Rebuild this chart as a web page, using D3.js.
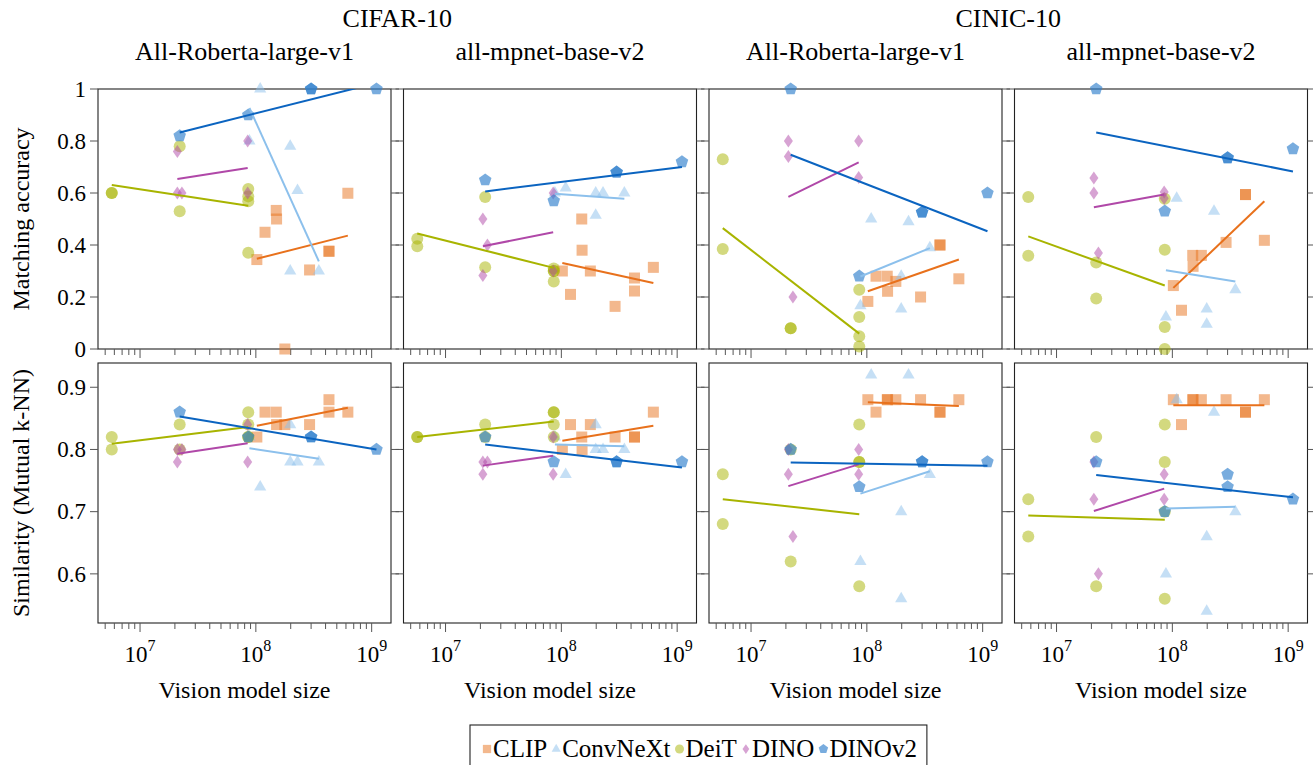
<!DOCTYPE html>
<html>
<head>
<meta charset="utf-8">
<script src="https://cdn.jsdelivr.net/npm/d3@7"></script>
<style>
body { margin: 0; background: #fff; }
text { font-family: "Liberation Serif", "Times New Roman", serif; fill: #000; }
</style>
</head>
<body>
<script>
// model sizes (vision encoder parameters)
var clipSize     = [102e6, 120e6, 150e6, 151e6, 178e6, 291e6, 428e6, 428e6, 623e6];
var convnextSize = [88e6, 109e6, 198e6, 198e6, 229e6, 350e6];
var deitSize     = [5.7e6, 5.7e6, 22e6, 22e6, 86e6, 86e6, 86e6, 86e6];
var dinoSize     = [21e6, 21e6, 23e6, 85e6, 85e6];
var dinov2Size   = [22e6, 86e6, 300e6, 300e6, 1.1e9];

// panel titles
var datasets = ["CIFAR-10", "CINIC-10"];
var textModels = ["All-Roberta-large-v1", "all-mpnet-base-v2", "All-Roberta-large-v1", "all-mpnet-base-v2"];

// matching accuracy, one row per panel
var clipAcc = [
  [0.344, 0.449, 0.533, 0.50, 0.0, 0.304, 0.376, 0.376, 0.599],
  [0.30, 0.21, 0.50, 0.38, 0.30, 0.164, 0.273, 0.223, 0.314],
  [0.183, 0.28, 0.28, 0.222, 0.26, 0.20, 0.40, 0.40, 0.27],
  [0.244, 0.149, 0.36, 0.318, 0.36, 0.41, 0.594, 0.594, 0.418]
];
var convnextAcc = [
  [0.80, 1.0, 0.78, 0.30, 0.61, 0.30],
  [0.60, 0.62, 0.60, 0.515, 0.60, 0.60],
  [0.167, 0.50, 0.28, 0.154, 0.49, 0.39],
  [0.123, 0.58, 0.154, 0.096, 0.53, 0.228]
];
var deitAcc = [
  [0.60, 0.60, 0.78, 0.53, 0.615, 0.587, 0.568, 0.37],
  [0.424, 0.395, 0.585, 0.314, 0.31, 0.30, 0.26, 0.30],
  [0.73, 0.385, 0.08, 0.08, 0.228, 0.123, 0.049, 0.01],
  [0.585, 0.359, 0.333, 0.194, 0.578, 0.382, 0.085, 0.0]
];
var dinoAcc = [
  [0.60, 0.76, 0.60, 0.80, 0.60],
  [0.50, 0.283, 0.40, 0.60, 0.30],
  [0.80, 0.74, 0.20, 0.80, 0.66],
  [0.658, 0.60, 0.369, 0.604, 0.58]
];
var dinov2Acc = [
  [0.82, 0.90, 1.0, 1.0, 1.0],
  [0.65, 0.57, 0.68, 0.68, 0.72],
  [1.0, 0.28, 0.526, 0.526, 0.60],
  [1.0, 0.53, 0.735, 0.735, 0.77]
];

// similarity (mutual k-NN)
var clipSim = [
  [0.82, 0.86, 0.86, 0.84, 0.84, 0.84, 0.88, 0.86, 0.86],
  [0.80, 0.84, 0.82, 0.80, 0.84, 0.82, 0.82, 0.82, 0.86],
  [0.88, 0.86, 0.88, 0.88, 0.88, 0.88, 0.86, 0.86, 0.88],
  [0.88, 0.84, 0.88, 0.88, 0.88, 0.88, 0.86, 0.86, 0.88]
];
var convnextSim = [
  [0.82, 0.74, 0.84, 0.78, 0.78, 0.78],
  [0.82, 0.76, 0.84, 0.80, 0.80, 0.80],
  [0.62, 0.92, 0.70, 0.56, 0.92, 0.76],
  [0.60, 0.88, 0.66, 0.54, 0.86, 0.70]
];
var deitSim = [
  [0.82, 0.80, 0.84, 0.80, 0.86, 0.84, 0.82, 0.82],
  [0.82, 0.82, 0.84, 0.82, 0.86, 0.86, 0.84, 0.82],
  [0.76, 0.68, 0.80, 0.62, 0.84, 0.78, 0.58, 0.78],
  [0.72, 0.66, 0.82, 0.58, 0.84, 0.78, 0.56, 0.70]
];
var dinoSim = [
  [0.80, 0.78, 0.80, 0.84, 0.78],
  [0.78, 0.76, 0.78, 0.82, 0.76],
  [0.76, 0.80, 0.66, 0.80, 0.76],
  [0.72, 0.78, 0.60, 0.76, 0.72]
];
var dinov2Sim = [
  [0.86, 0.82, 0.82, 0.82, 0.80],
  [0.82, 0.78, 0.78, 0.78, 0.78],
  [0.80, 0.74, 0.78, 0.78, 0.78],
  [0.78, 0.70, 0.76, 0.74, 0.72]
];

// trend lines: value at smallest and largest model of each family
var clipAccTrend     = [[0.347, 0.436], [0.331, 0.254], [0.222, 0.344], [0.235, 0.568]];
var convnextAccTrend = [[0.927, 0.337], [0.597, 0.578], [0.279, 0.388], [0.303, 0.26]];
var deitAccTrend     = [[0.631, 0.551], [0.444, 0.312], [0.465, 0.059], [0.433, 0.244]];
var dinoAccTrend     = [[0.654, 0.696], [0.395, 0.449], [0.585, 0.718], [0.545, 0.594]];
var dinov2AccTrend   = [[0.833, 1.023], [0.606, 0.70], [0.747, 0.453], [0.833, 0.683]];

var clipSimTrend     = [[0.838, 0.867], [0.814, 0.838], [0.876, 0.87], [0.871, 0.871]];
var convnextSimTrend = [[0.802, 0.785], [0.808, 0.805], [0.729, 0.765], [0.705, 0.708]];
var deitSimTrend     = [[0.809, 0.836], [0.82, 0.845], [0.72, 0.696], [0.694, 0.687]];
var dinoSimTrend     = [[0.793, 0.81], [0.774, 0.79], [0.741, 0.776], [0.701, 0.737]];
var dinov2SimTrend   = [[0.853, 0.80], [0.808, 0.771], [0.779, 0.774], [0.759, 0.723]];

var families = [
  {name: "CLIP", size: clipSize, acc: clipAcc, sim: clipSim, accTrend: clipAccTrend, simTrend: clipSimTrend,
   shape: "square", fill: "#e8711c", fillOp: 0.5, line: "#e8711c"},
  {name: "ConvNeXt", size: convnextSize, acc: convnextAcc, sim: convnextSim, accTrend: convnextAccTrend, simTrend: convnextSimTrend,
   shape: "triangle", fill: "#8cc0ec", fillOp: 0.5, line: "#8cc0ec"},
  {name: "DeiT", size: deitSize, acc: deitAcc, sim: deitSim, accTrend: deitAccTrend, simTrend: deitSimTrend,
   shape: "circle", fill: "#a8b400", fillOp: 0.5, line: "#a8b400"},
  {name: "DINO", size: dinoSize, acc: dinoAcc, sim: dinoSim, accTrend: dinoAccTrend, simTrend: dinoSimTrend,
   shape: "diamond", fill: "#b048a8", fillOp: 0.5, line: "#b048a8"},
  {name: "DINOv2", size: dinov2Size, acc: dinov2Acc, sim: dinov2Sim, accTrend: dinov2AccTrend, simTrend: dinov2SimTrend,
   shape: "pentagon", fill: "#2f80cc", fillOp: 0.65, line: "#0b64c0"}
];

var W = 1313, H = 765;
var panelW = 293, panelH = 260;
var colX = [98, 403.5, 709, 1014.5];
var rowY = [89, 363];

var svg = d3.select("body").append("svg")
    .attr("width", W)
    .attr("height", H);

var x = d3.scaleLog().domain([Math.pow(10, 6.637), Math.pow(10, 9.167)]).range([0, panelW]);
var yAcc = d3.scaleLinear().domain([0, 1]).range([panelH, 0]);
var ySim = d3.scaleLinear().domain([0.521, 0.939]).range([panelH, 0]);

// marker outlines centred on 0,0
function shapePath(shape, s) {
  if (shape === "square") {
    var h = 5.5 * s;
    return "M" + (-h) + "," + (-h) + "h" + (2 * h) + "v" + (2 * h) + "h" + (-2 * h) + "Z";
  }
  if (shape === "circle") {
    return d3.symbol(d3.symbolCircle, Math.PI * 36 * s * s)();
  }
  if (shape === "triangle") {
    return "M0," + (-6.9 * s) + "L" + (6.1 * s) + "," + (3.6 * s) + "L" + (-6.1 * s) + "," + (3.6 * s) + "Z";
  }
  if (shape === "diamond") {
    return "M0," + (-6.5 * s) + "L" + (4.5 * s) + ",0L0," + (6.5 * s) + "L" + (-4.5 * s) + ",0Z";
  }
  var pts = d3.range(5).map(function(k) {
    var a = -Math.PI / 2 + k * 2 * Math.PI / 5;
    return [6.6 * s * Math.cos(a), 6.6 * s * Math.sin(a)];
  });
  return "M" + pts.join("L") + "Z";
}

// clip path for the trend lines
svg.append("defs").append("clipPath")
    .attr("id", "panelclip")
  .append("rect")
    .attr("width", panelW)
    .attr("height", panelH);

var minorTicks = [];
[1e6, 1e7, 1e8, 1e9].forEach(function(d) {
  for (var k = 1; k < 10; k++) {
    var v = d * k;
    if (v >= x.domain()[0] && v <= x.domain()[1]) minorTicks.push(v);
  }
});

[0, 1].forEach(function(row) {
  var y = row === 0 ? yAcc : ySim;
  var yTicks = row === 0 ? [0, 0.2, 0.4, 0.6, 0.8, 1] : [0.6, 0.7, 0.8, 0.9];

  colX.forEach(function(cx, col) {
    var g = svg.append("g")
        .attr("transform", "translate(" + cx + "," + rowY[row] + ")");

    // frame
    g.append("rect")
        .attr("width", panelW)
        .attr("height", panelH)
        .attr("fill", "#fff")
        .attr("stroke", "#222")
        .attr("stroke-width", 1.1);

    // y ticks, outward on both sides
    yTicks.forEach(function(t) {
      g.append("line").attr("x1", -8).attr("x2", 0).attr("y1", y(t)).attr("y2", y(t))
          .attr("stroke", "#555").attr("stroke-width", 1);
      g.append("line").attr("x1", panelW).attr("x2", panelW + 8).attr("y1", y(t)).attr("y2", y(t))
          .attr("stroke", "#555").attr("stroke-width", 1);
      if (col === 0) {
        g.append("text")
            .attr("x", -12)
            .attr("y", y(t))
            .attr("dy", "0.34em")
            .style("text-anchor", "end")
            .style("font-size", "23px")
            .text(t);
      }
    });

    // x ticks (log, minor + major)
    minorTicks.forEach(function(t) {
      var major = Math.abs(Math.log10(t) - Math.round(Math.log10(t))) < 1e-9;
      g.append("line")
          .attr("x1", x(t)).attr("x2", x(t))
          .attr("y1", panelH).attr("y2", panelH + (major ? 9 : 6))
          .attr("stroke", "#555").attr("stroke-width", 1);
    });

    if (row === 1) {
      [1e7, 1e8, 1e9].forEach(function(t) {
        var lab = g.append("text")
            .attr("x", x(t))
            .attr("y", panelH + 39)
            .style("text-anchor", "middle")
            .style("font-size", "23px");
        lab.append("tspan").text("10");
        lab.append("tspan")
            .attr("dy", -11)
            .style("font-size", "16px")
            .text(Math.round(Math.log10(t)));
      });
      g.append("text")
          .attr("x", panelW / 2)
          .attr("y", panelH + 75)
          .style("text-anchor", "middle")
          .style("font-size", "24px")
          .text("Vision model size");
    } else {
      g.append("text")
          .attr("x", panelW / 2)
          .attr("y", -29)
          .style("text-anchor", "middle")
          .style("font-size", "26px")
          .text(textModels[col]);
    }

    // markers
    families.forEach(function(f) {
      var vals = row === 0 ? f.acc[col] : f.sim[col];
      g.append("g").selectAll("path")
          .data(vals)
          .enter().append("path")
          .attr("d", shapePath(f.shape, 1))
          .attr("transform", function(d, i) { return "translate(" + x(f.size[i]) + "," + y(d) + ")"; })
          .attr("fill", f.fill)
          .attr("fill-opacity", f.fillOp);
    });

    // trend lines
    var lines = g.append("g").attr("clip-path", "url(#panelclip)");
    families.forEach(function(f) {
      var tr = row === 0 ? f.accTrend[col] : f.simTrend[col];
      var x0 = d3.min(f.size), x1 = d3.max(f.size);
      lines.append("line")
          .attr("x1", x(x0)).attr("y1", y(tr[0]))
          .attr("x2", x(x1)).attr("y2", y(tr[1]))
          .attr("stroke", f.line)
          .attr("stroke-width", 2);
    });
  });
});

// dataset titles
datasets.forEach(function(name, i) {
  svg.append("text")
      .attr("x", (colX[2 * i] + colX[2 * i + 1] + panelW) / 2)
      .attr("y", 27)
      .style("text-anchor", "middle")
      .style("font-size", "26px")
      .text(name);
});

// y axis titles
svg.append("text")
    .attr("transform", "translate(29," + (rowY[0] + panelH / 2) + ") rotate(-90)")
    .style("text-anchor", "middle")
    .style("font-size", "24px")
    .text("Matching accuracy");
svg.append("text")
    .attr("transform", "translate(29," + (rowY[1] + panelH / 2) + ") rotate(-90)")
    .style("text-anchor", "middle")
    .style("font-size", "24px")
    .text("Similarity (Mutual k-NN)");

// legend
var legend = svg.append("g");
var lx = 470, ly = 725;
var cursor = lx + 12;
families.forEach(function(f) {
  legend.append("path")
      .attr("d", shapePath(f.shape, 0.75))
      .attr("transform", "translate(" + (cursor + 5) + ",749)")
      .attr("fill", f.fill)
      .attr("fill-opacity", f.fillOp);
  cursor += 11;
  var t = legend.append("text")
      .attr("x", cursor)
      .attr("y", 757)
      .style("font-size", "25px")
      .text(f.name);
  cursor += t.node().getComputedTextLength() + 4;
});
legend.insert("rect", ":first-child")
    .attr("x", lx)
    .attr("y", ly)
    .attr("width", cursor - lx + 6)
    .attr("height", 50)
    .attr("fill", "#fff")
    .attr("stroke", "#222")
    .attr("stroke-width", 1.1);
</script>
</body>
</html>
